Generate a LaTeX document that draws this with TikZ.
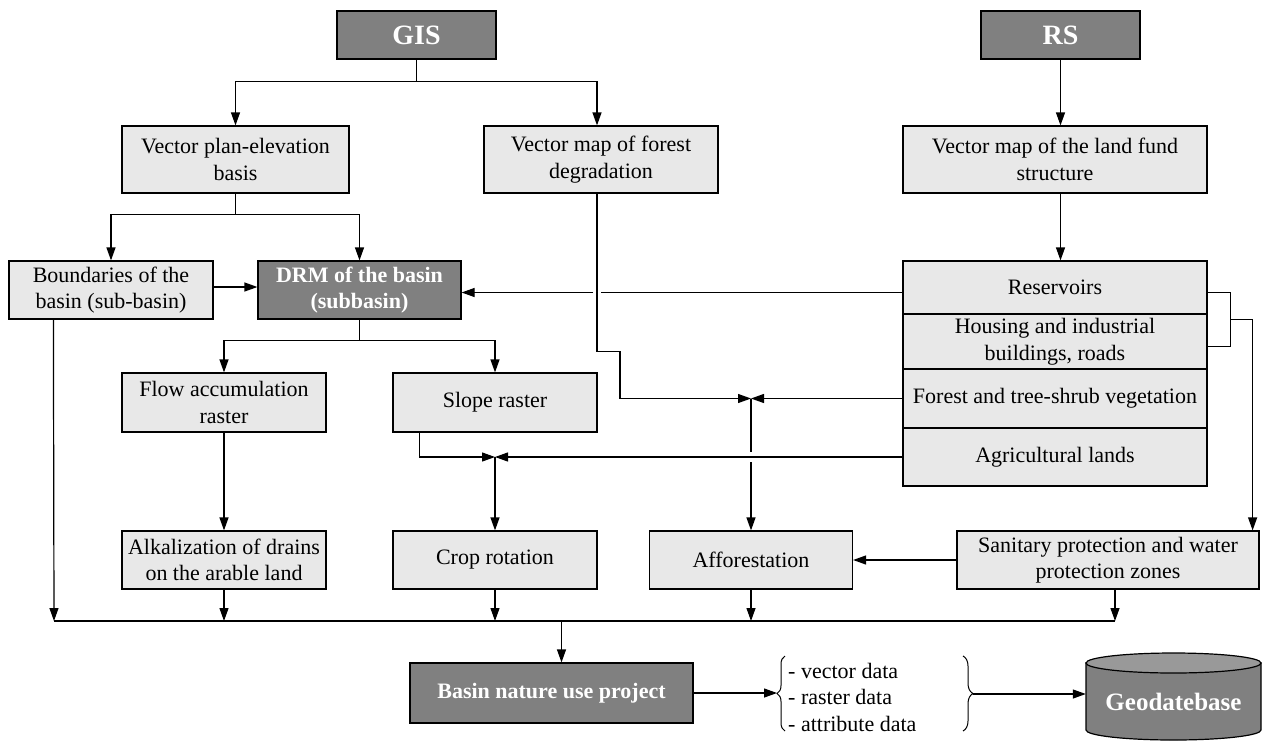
\documentclass[tikz,border=0pt]{standalone}
\usepackage{fontspec}
\setmainfont{Liberation Serif}
\usetikzlibrary{arrows.meta,decorations.pathreplacing,calc}
\definecolor{lightbox}{HTML}{E8E8E8}
\definecolor{darkbox}{HTML}{808080}
\definecolor{cyltop}{HTML}{999999}
\newcommand{\bodyfont}{\fontsize{22}{26.5}\selectfont}
\begin{document}
\begin{tikzpicture}[x=1pt,y=-1pt,
  box/.style={draw=black, line width=1.2pt, fill=lightbox, align=center, inner sep=2pt, font=\bodyfont},
  dbox/.style={box, fill=darkbox, text=white, font=\bodyfont\bfseries},
  topbox/.style={dbox, font=\fontsize{28}{32}\selectfont\bfseries, minimum width=159pt, minimum height=48pt},
  ln/.style={line width=1.2pt},
  arr/.style={line width=1.2pt, -{Triangle[length=13pt,width=9pt]}},
  brc/.style={line width=1pt, decorate}]
\useasboundingbox (0,0) rectangle (1263,742);

% nodes
\node[topbox] (GIS) at (416.5,35) {GIS};
\node[topbox] (RS) at (1060.5,35) {RS};
\node[box, minimum width=227pt, minimum height=67pt] (plan) at (235.5,159.5) {Vector plan-elevation\\basis};
\node[box, minimum width=234pt, minimum height=67pt] (forest) at (601,159.5) {Vector map of forest\\degradation};
\node[box, minimum width=304pt, minimum height=67pt] (land) at (1055,159.5) {Vector map of the land fund\\structure};
\node[box, minimum width=204pt, minimum height=58pt] (bound) at (111,290) {Boundaries of the\\basin (sub-basin)};
\node[dbox, minimum width=203pt, minimum height=58pt] (drm) at (359.5,290) {DRM of the basin\\(subbasin)};
\node[box, minimum width=304pt, minimum height=53pt] (res) at (1055,287.5) {Reservoirs};
\node[box, minimum width=304pt, minimum height=55pt] (hous) at (1055,341.5) {Housing and industrial\\buildings, roads};
\node[box, minimum width=304pt, minimum height=59pt] (forr) at (1055,398.5) {Forest and tree-shrub vegetation};
\node[box, minimum width=304pt, minimum height=58pt] (agri) at (1055,457) {Agricultural lands};
\node[box, minimum width=204pt, minimum height=59pt] (flow) at (224,402.5) {Flow accumulation\\raster};
\node[box, minimum width=204pt, minimum height=59pt] (slope) at (495,402.5) {Slope raster};
\node[box, minimum width=204pt, minimum height=58pt] (alk) at (224,560) {Alkalization of drains\\on the arable land};
\node[box, minimum width=204pt, minimum height=58pt] (crop) at (495,560) {Crop rotation};
\node[box, minimum width=203pt, minimum height=58pt] (aff) at (751,560) {Afforestation};
\node[box, minimum width=302pt, minimum height=58pt] (san) at (1108,560) {Sanitary protection and water\\protection zones};
\node[dbox, minimum width=283pt, minimum height=60pt] (basin) at (551.5,693) {Basin nature use project};

% geodatabase cylinder
\draw[line width=1.2pt, fill=darkbox] (1086,663) -- (1086,730) arc[start angle=180, end angle=360, x radius=87.5pt, y radius=10pt] -- (1261,663) -- cycle;
\draw[line width=1.2pt, fill=cyltop] (1173.5,663) ellipse [x radius=87.5pt, y radius=10pt];
\node[font=\fontsize{25}{30}\selectfont\bfseries, text=white, minimum width=175pt, minimum height=77pt, inner sep=0pt] (geo) at (1173.5,702) {Geodatebase};

% data list
\node[anchor=west, align=left, font=\bodyfont, inner sep=0pt] (data) at (788,697) {- vector data\\- raster data\\- attribute data};

% connectors: top
\coordinate (fn) at ([xshift=-4pt]forest.north);
\coordinate (fs) at ([xshift=-4pt]forest.south);
\draw[arr] (GIS.south) -- ++(0,22) -| (plan.north);
\draw[arr] (GIS.south) -- ++(0,22) -| (fn);
\draw[arr] (RS.south) -- (RS.south |- land.north);
\draw[arr] (RS.south |- land.south) -- (RS.south |- res.north);
\draw[arr] (plan.south) -- ++(0,21) -| (bound.north);
\draw[arr] (plan.south) -- ++(0,21) -| (drm.north);
\draw[arr] ([yshift=3pt]bound.east) -- ([yshift=3pt]drm.west);

% reservoirs -> DRM with gap at forest line
\coordinate (rj) at ([yshift=-5pt]res.west);
\coordinate (rx) at (rj -| fs);
\draw[ln] (rj) -- ($(rx)+(4,0)$);
\draw[arr] ($(rx)+(-4,0)$) -- (rj -| drm.east);

% junctions
\coordinate (J2) at (aff.north |- forr.west);
\coordinate (J1) at (crop.north |- agri.west);
\draw[arr] (fs) -- ++(0,158) -- ++(23,0) |- (J2);
\draw[arr] (forr.west) -- (J2);
\draw[ln] (J2) -- ($(J2 |- agri.west)+(0,-5)$);
\draw[arr] ($(J2 |- agri.west)+(0,5)$) -- (aff.north);
\draw[arr] (agri.west) -- (J1);
\draw[arr] ([xshift=27pt]slope.south west) |- (J1);
\draw[arr] (J1) -- (crop.north);

% DRM branches
\draw[arr] (drm.south) -- ++(0,21) -| (flow.north);
\draw[arr] (drm.south) -- ++(0,21) -| (slope.north);
\draw[arr] (flow.south) -- (alk.north);

% right bracket
\coordinate (bt1) at ([yshift=-5pt]res.east);
\coordinate (bt2) at ([yshift=-5pt]hous.east);
\draw[ln] (bt1) -- ++(23,0) coordinate (bk1) -- (bk1 |- bt2) -- (bt2);
\coordinate (bm) at ($(bk1)!0.5!(bk1 |- bt2)$);
\draw[arr] (bm) -- ++(22,0) coordinate (bo) -- (bo |- san.north);
\draw[arr] (san.west) -- (aff.east);

% bottom bus
\coordinate (ss) at ([xshift=7pt]san.south);
\coordinate (busL) at (54,621);
\coordinate (busR) at (ss |- busL);
\draw[ln] (busL) -- (busR);
\draw[arr] ([xshift=45pt]bound.south west) -- (busL);
\draw[arr] (alk.south) -- (alk.south |- busL);
\draw[arr] (crop.south) -- (crop.south |- busL);
\draw[arr] (aff.south) -- (aff.south |- busL);
\draw[arr] (ss) -- (busR);
\coordinate (bt) at ([xshift=10pt]basin.north);
\draw[arr] (bt |- busL) -- (bt);

% braces and output
\coordinate (brL) at (777,693);
\draw[arr] (basin.east) -- (brL);
\draw[brc, decoration={brace, amplitude=8pt}] (785,731) -- (785,656);
\draw[brc, decoration={brace, amplitude=10pt}] (963,656) -- (963,731);
\coordinate (brR) at (973,694);
\draw[arr] (brR) -- (geo.west |- brR);
\end{tikzpicture}
\end{document}
